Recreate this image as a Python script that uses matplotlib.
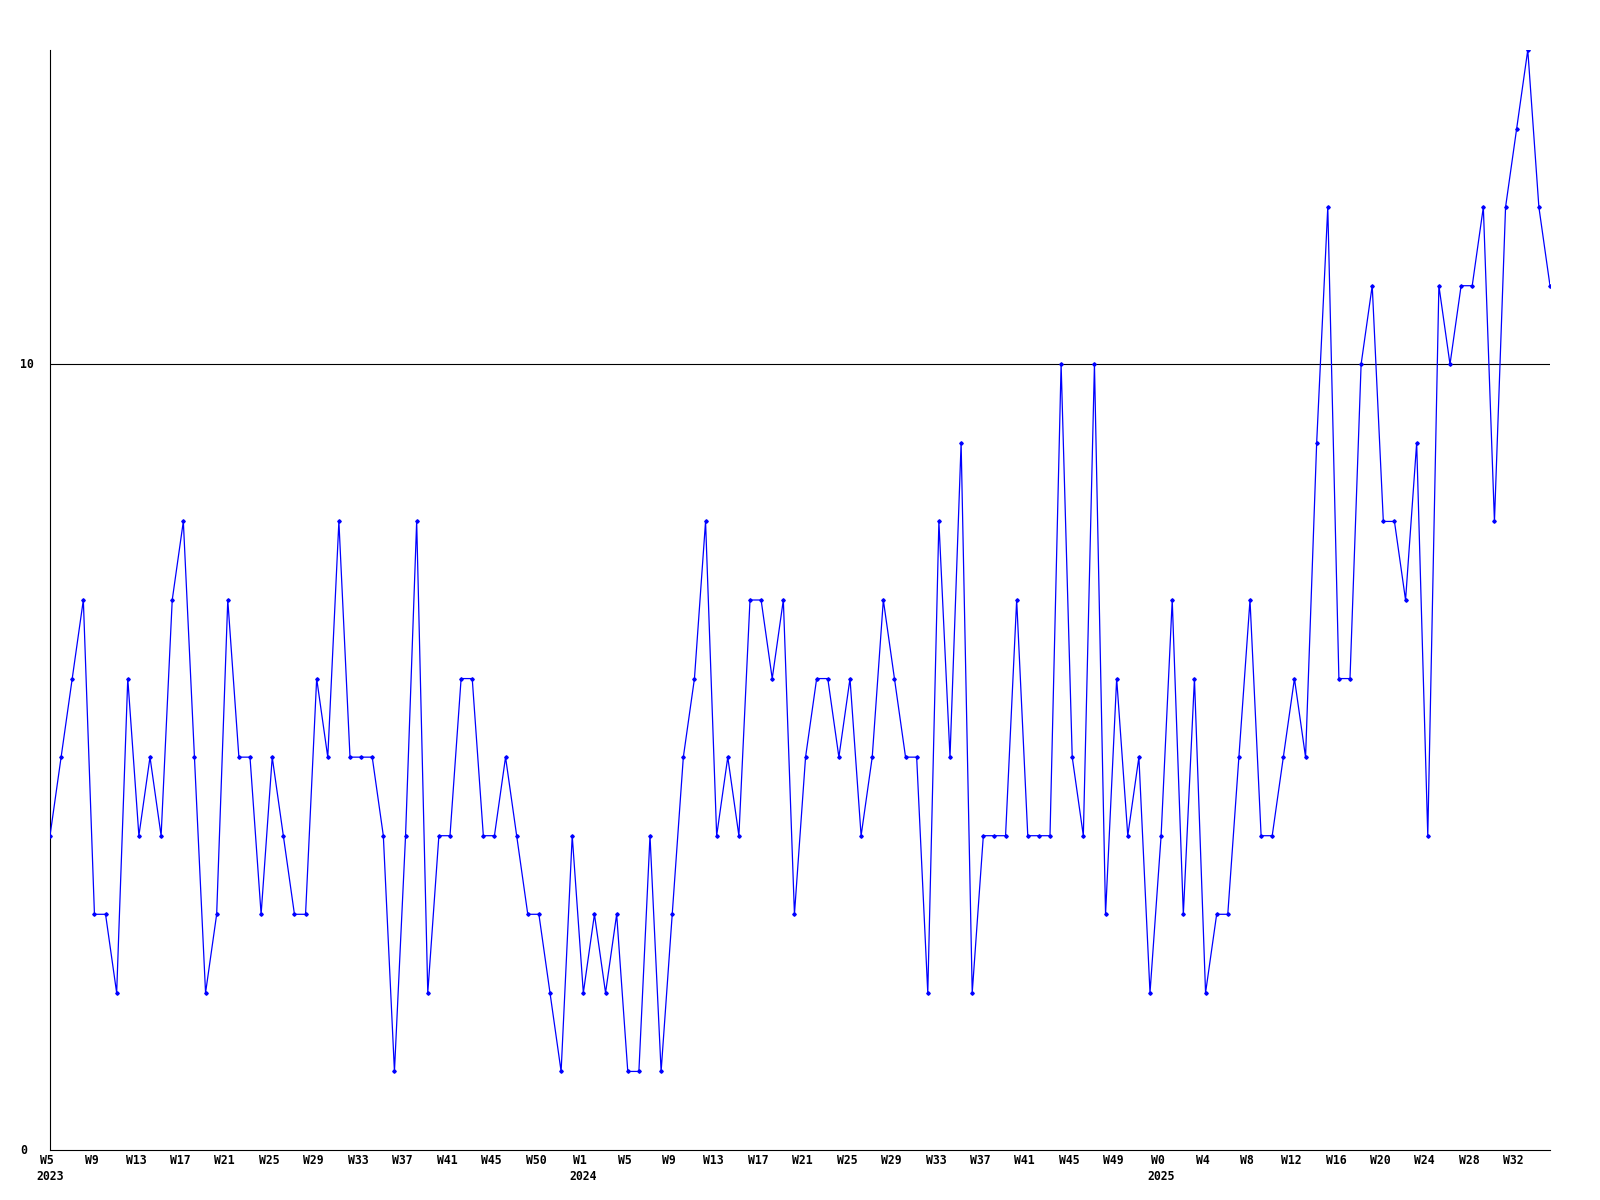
import matplotlib
matplotlib.use("Agg")
from matplotlib import pyplot as plt
from matplotlib import transforms
import numpy as np

# weekly counts, one per week from W5 2023 on
values = [4, 5, 6, 7, 3, 3, 2, 6, 4, 5, 4, 7, 8, 5, 2, 3, 7, 5, 5, 3,
          5, 4, 3, 3, 6, 5, 8, 5, 5, 5, 4, 1, 4, 8, 2, 4, 4, 6, 6, 4,
          4, 5, 4, 3, 3, 2, 1, 4, 2, 3, 2, 3, 1, 1, 4, 1, 3, 5, 6, 8,
          4, 5, 4, 7, 7, 6, 7, 3, 5, 6, 6, 5, 6, 4, 5, 7, 6, 5, 5, 2,
          8, 5, 9, 2, 4, 4, 4, 7, 4, 4, 4, 10, 5, 4, 10, 3, 6, 4, 5, 2,
          4, 7, 3, 6, 2, 3, 3, 5, 7, 4, 4, 5, 6, 5, 9, 12, 6, 6, 10, 11,
          8, 8, 7, 9, 4, 11, 10, 11, 11, 12, 8, 12, 13, 14, 12, 11]

week_labels = ['W5', 'W9', 'W13', 'W17', 'W21', 'W25', 'W29', 'W33', 'W37', 'W41', 'W45', 'W50',
               'W1', 'W5', 'W9', 'W13', 'W17', 'W21', 'W25', 'W29', 'W33', 'W37', 'W41', 'W45', 'W49',
               'W0', 'W4', 'W8', 'W12', 'W16', 'W20', 'W24', 'W28', 'W32']
year_labels = {0: '2023', 12: '2024', 25: '2025'}

x = np.arange(len(values))
tick_pos = x[::4][:len(week_labels)]

fig = plt.figure(figsize=(16, 12), dpi=100)
ax = fig.add_axes([50/1600, 50/1200, 1500/1600, 1100/1200])
ax.spines['right'].set_color('none')
ax.spines['top'].set_color('none')
ax.spines['left'].set_linewidth(0.8)
ax.spines['bottom'].set_linewidth(0.8)

ax.axhline(10, color='black', lw=0.8, zorder=1)
ax.plot(x, values, color='#0000ff', lw=0.9, marker='D', ms=1.8, zorder=3)

ax.set_xlim(0, len(values) - 1)
ax.set_ylim(0, 14)
ax.set_xticks([])
ax.set_yticks([])

font = dict(family='DejaVu Sans Mono', fontweight='bold', fontsize=8.3)

for yv in [0, 10]:
    fig.text(20/1600, ax.transData.transform((0, yv))[1] / 1200, str(yv),
             ha='left', va='center', **font)

trans = transforms.blended_transform_factory(ax.transData, ax.transAxes)
wk_trans = transforms.offset_copy(trans, fig=fig, x=-3, y=-11, units='dots')
yr_trans = transforms.offset_copy(trans, fig=fig, x=0, y=-27, units='dots')
for k, (p, lab) in enumerate(zip(tick_pos, week_labels)):
    ax.text(p, 0, lab, transform=wk_trans, ha='center', va='center', **font)
    if k in year_labels:
        ax.text(p, 0, year_labels[k], transform=yr_trans, ha='center', va='center', **font)

plt.savefig('out.png', dpi=100)
